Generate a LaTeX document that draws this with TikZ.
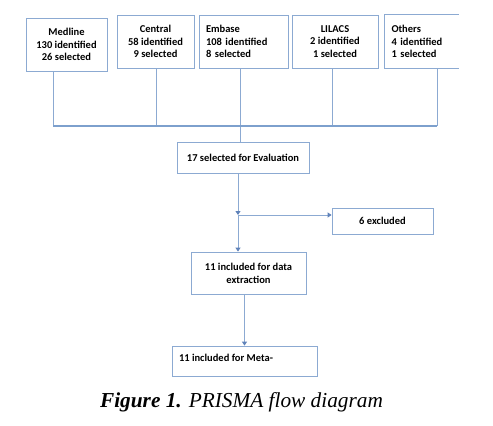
\documentclass[tikz,border=0pt]{standalone}
\usepackage{fontspec}
\setmainfont{Liberation Serif}
\newfontfamily\boxfont{Carlito}
\usetikzlibrary{positioning,arrows.meta,calc}
\definecolor{lineblue}{RGB}{140,170,210}
\definecolor{busblue}{RGB}{125,160,205}
\definecolor{tipblue}{RGB}{95,130,185}

\begin{document}
\begin{tikzpicture}[x=1pt, y=-1pt,
  >={Triangle[length=4pt,width=5pt,fill=tipblue,color=tipblue]},
  db/.style={draw=lineblue, line width=0.8pt, align=center, inner sep=0pt,
             font=\boxfont\bfseries\fontsize{10.5}{12.7}\selectfont,
             minimum height=53pt},
  dbl/.style={db, align=left, inner xsep=7pt},
  fl/.style={draw=lineblue, line width=0.8pt, align=center, inner sep=0pt,
             font=\boxfont\bfseries\fontsize{10.5}{12.7}\selectfont},
  cn/.style={lineblue, line width=0.8pt}]
  \useasboundingbox (0,0) rectangle (493,426);
  \node[db, minimum width=81pt] (med) at (66.5,44.5) {Medline\\130 identified\\26 selected};
  \node[db, minimum width=77pt] (cen) at (155.5,41.5) {Central\\58 identified\\9 selected};
  \node[dbl, text width=75pt] (emb) at (243.5,41.5) {Embase\\108 identified\\8 selected};
  \node[db, minimum width=86pt] (lil) at (335,41.5) {LILACS\\2 identified\\1 selected};
  \node[dbl, draw=none, text width=60pt] (oth) at (421.5,41.5) {Others\\4 identified\\1 selected};
  \node[fl, minimum width=132pt, minimum height=31pt] (eval) at (243,157.5) {17 selected for Evaluation};
  \node[fl, minimum width=101pt, minimum height=26pt] (exc) at (382.5,221) {6 excluded};
  \node[fl, minimum width=115pt, minimum height=42pt] (ext) at (248.5,273) {11 included for data\\extraction};
  \node[fl, align=flush left, text width=131pt, inner xsep=7pt, minimum height=30pt,
        text depth=7pt] (meta) at (244.5,361) {11 included for Meta-};
  \node[font=\itshape\fontsize{21.3}{25}\selectfont] (cap) at (241.5,402) {\textbf{Figure 1.} PRISMA flow diagram};
  \coordinate (b1) at (53,126);
  \coordinate (b2) at (156,126);
  \coordinate (b3) at (240.5,126);
  \coordinate (b4) at (332,126);
  \coordinate (b5) at (437,126);
  \coordinate (split) at (238,215);
  \draw[cn] (oth.north east) -- (oth.north west) -- (oth.south west) -- (oth.south east);
  \draw[cn] (b1 |- med.south) -- (b1);
  \draw[cn] (b2 |- cen.south) -- (b2);
  \draw[cn] (b3 |- emb.south) -- (b3 |- eval.north);
  \draw[cn] (b4 |- lil.south) -- (b4);
  \draw[cn] (b5 |- oth.south) -- (b5);
  \draw[busblue, line width=1.5pt] (b1) -- (b5);
  \draw[cn, ->] (split |- eval.south) -- (split);
  \draw[cn, ->] (split) -- (split -| exc.west);
  \draw[cn, ->] (split) -- (split |- ext.north);
  \draw[cn, ->] (meta.north |- ext.south) -- (meta.north);
\end{tikzpicture}
\end{document}
